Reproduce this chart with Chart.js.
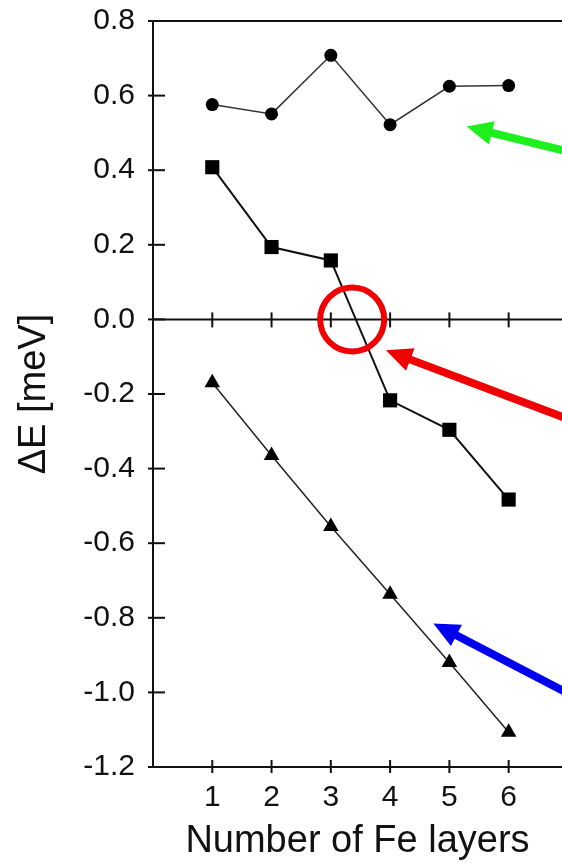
<!DOCTYPE html>
<html>
<head>
<meta charset="utf-8">
<script src="https://cdn.jsdelivr.net/npm/chart.js@4"></script>
<style>
  html, body { margin: 0; padding: 0; background: #fff; }
  #wrap { width: 562px; height: 864px; position: relative; }
</style>
</head>
<body>
<div id="wrap"><canvas id="chart"></canvas></div>
<script>
// values
const layers = [1, 2, 3, 4, 5, 6];
const circleSeries = [0.576, 0.551, 0.708, 0.522, 0.625, 0.627];
const squareSeries = [0.408, 0.194, 0.158, -0.217, -0.296, -0.483];
const triangleSeries = [-0.17, -0.365, -0.555, -0.737, -0.92, -1.107];
const yTickLabels = ['0.8', '0.6', '0.4', '0.2', '0.0', '-0.2', '-0.4', '-0.6', '-0.8', '-1.0', '-1.2'];
const xTickLabels = ['1', '2', '3', '4', '5', '6'];

// annotation marks, in data units
const arrows = [
  { color: '#1ef01e', from: [7.1, 0.446], to: [5.29, 0.517] },
  { color: '#f00000', from: [7.1, -0.273], to: [3.93, -0.083] },
  { color: '#0000f0', from: [7.1, -1.011], to: [4.73, -0.815] }
];
const ring = { color: '#f00000', at: [3.36, 0.0], r: 32 };

function points(ys) {
  return layers.map((x, i) => ({ x: x, y: ys[i] }));
}

const frame = {
  id: 'frame',
  afterDraw(chart) {
    const ctx = chart.ctx;
    const a = chart.chartArea;
    const xs = chart.scales.x, ys = chart.scales.y;
    ctx.save();
    ctx.strokeStyle = '#111';
    ctx.lineWidth = 2;
    // top border
    ctx.beginPath();
    ctx.moveTo(a.left, a.top);
    ctx.lineTo(a.right + 5, a.top);
    ctx.stroke();
    // y ticks every 0.1
    ys.ticks.forEach(t => {
      const py = ys.getPixelForValue(t.value);
      ctx.beginPath();
      ctx.moveTo(a.left - 5, py);
      ctx.lineTo(a.left + 12, py);
      ctx.stroke();
    });
    // zero line
    const y0 = ys.getPixelForValue(0);
    ctx.beginPath();
    ctx.moveTo(a.left, y0);
    ctx.lineTo(a.right + 5, y0);
    ctx.stroke();
    layers.forEach(v => {
      const px = xs.getPixelForValue(v);
      ctx.beginPath();
      ctx.moveTo(px, y0 - 7);
      ctx.lineTo(px, y0 + 8);
      ctx.stroke();
      ctx.beginPath();
      ctx.moveTo(px, a.bottom - 7);
      ctx.lineTo(px, a.bottom + 6);
      ctx.stroke();
    });
    ctx.restore();
  }
};

const marks = {
  id: 'marks',
  afterDraw(chart) {
    const ctx = chart.ctx;
    const xs = chart.scales.x, ys = chart.scales.y;
    ctx.save();
    // ring
    ctx.strokeStyle = ring.color;
    ctx.lineWidth = 6;
    ctx.beginPath();
    ctx.arc(xs.getPixelForValue(ring.at[0]), ys.getPixelForValue(ring.at[1]), ring.r, 0, Math.PI * 2);
    ctx.stroke();
    // arrows
    arrows.forEach(ar => {
      const x1 = xs.getPixelForValue(ar.from[0]), y1 = ys.getPixelForValue(ar.from[1]);
      const x2 = xs.getPixelForValue(ar.to[0]), y2 = ys.getPixelForValue(ar.to[1]);
      const ang = Math.atan2(y2 - y1, x2 - x1);
      const headLen = 26, headHalf = 12;
      const bx = x2 - Math.cos(ang) * headLen, by = y2 - Math.sin(ang) * headLen;
      ctx.strokeStyle = ar.color;
      ctx.fillStyle = ar.color;
      ctx.lineWidth = 8;
      ctx.beginPath();
      ctx.moveTo(x1, y1);
      ctx.lineTo(bx + Math.cos(ang) * 4, by + Math.sin(ang) * 4);
      ctx.stroke();
      ctx.beginPath();
      ctx.moveTo(x2, y2);
      ctx.lineTo(bx + Math.sin(ang) * headHalf, by - Math.cos(ang) * headHalf);
      ctx.lineTo(bx - Math.sin(ang) * headHalf, by + Math.cos(ang) * headHalf);
      ctx.closePath();
      ctx.fill();
    });
    ctx.restore();
  }
};

const FONT = "'Liberation Sans', Arial, Helvetica, sans-serif";

new Chart(document.getElementById('chart'), {
  type: 'scatter',
  data: {
    datasets: [
      {
        label: 'circles',
        data: points(circleSeries),
        showLine: true,
        borderColor: '#333',
        borderWidth: 1.5,
        pointStyle: 'circle',
        pointRadius: 6.5,
        pointBackgroundColor: '#000',
        pointBorderColor: '#000',
        pointBorderWidth: 0
      },
      {
        label: 'squares',
        data: points(squareSeries),
        showLine: true,
        borderColor: '#111',
        borderWidth: 2,
        pointStyle: 'rect',
        pointRadius: 10,
        pointBackgroundColor: '#000',
        pointBorderColor: '#000',
        pointBorderWidth: 0
      },
      {
        label: 'triangles',
        data: points(triangleSeries),
        showLine: true,
        borderColor: '#222',
        borderWidth: 1.5,
        pointStyle: 'triangle',
        pointRadius: 9,
        pointBackgroundColor: '#000',
        pointBorderColor: '#000',
        pointBorderWidth: 0
      }
    ]
  },
  options: {
    responsive: true,
    maintainAspectRatio: false,
    animation: false,
    layout: { autoPadding: false, padding: { top: 21, right: 0, left: 0, bottom: 0 } },
    plugins: {
      legend: { display: false },
      tooltip: { enabled: false }
    },
    scales: {
      x: {
        type: 'linear',
        bounds: 'data',
        min: 0,
        max: 6.9,
        afterFit: s => { s.height = 97; s.paddingLeft = 0; s.paddingRight = 0; },
        grid: { display: false, drawTicks: false },
        border: { display: true, color: '#111', width: 2 },
        ticks: {
          stepSize: 1,
          includeBounds: false,
          padding: 13,
          color: '#111',
          font: { family: FONT, size: 30 },
          callback: v => xTickLabels.find(l => Math.abs(parseFloat(l) - v) < 1e-6) || ''
        },
        title: {
          display: true,
          text: 'Number of Fe layers',
          color: '#111',
          font: { family: FONT, size: 38 },
          padding: { top: 0, bottom: 0 }
        }
      },
      y: {
        bounds: 'data',
        min: -1.2,
        max: 0.8,
        afterFit: s => { s.width = 153; s.paddingTop = 0; s.paddingBottom = 0; },
        grid: { display: false, drawTicks: false },
        border: { display: true, color: '#111', width: 2 },
        ticks: {
          stepSize: 0.1,
          padding: 18,
          color: '#111',
          font: { family: FONT, size: 30 },
          callback: v => yTickLabels.find(l => Math.abs(parseFloat(l) - v) < 1e-6) || ''
        },
        title: {
          display: true,
          text: 'ΔE [meV]',
          color: '#111',
          font: { family: FONT, size: 38 },
          padding: { top: 12, bottom: 0 }
        }
      }
    }
  },
  plugins: [frame, marks]
});
</script>
</body>
</html>
